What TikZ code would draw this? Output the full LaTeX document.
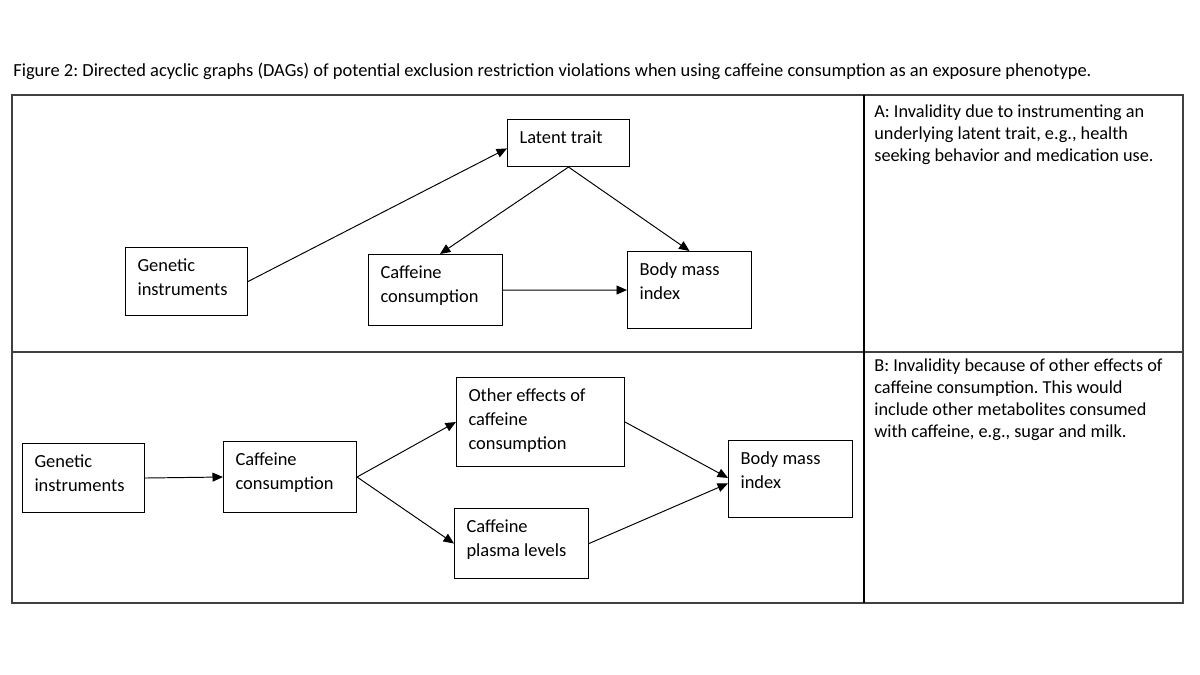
\documentclass[tikz,border=0pt]{standalone}
\usepackage{fontspec}
\setmainfont{Carlito}
\usetikzlibrary{arrows.meta}
\frenchspacing

\begin{document}
\begin{tikzpicture}[x = 0.02cm, y = -0.02cm,
  dagbox/.style 2 args = {draw = black, line width = 0.6pt, anchor = north west, align = flush left,
    inner xsep = 0.24cm, inner ysep = 0.22cm, text height = 0.26cm,
    text width = #1, text depth = #2, font = \fontsize{10.5}{13.6}\selectfont},
  desc/.style = {anchor = north west, inner sep = 0, align = left, font = \fontsize{10.4}{12.6}\selectfont},
  edge/.style = {draw = black, line width = 0.55pt, -{Triangle[length = 0.21cm, width = 0.18cm]}},
  rule/.style = {draw = black!75, line width = 0.9pt}]
\useasboundingbox (0, 0) rectangle (1200, 675);
\node[anchor = base west, inner sep = 0, font = \fontsize{10.5}{13}\selectfont] (caption) at (13, 77)
  {Figure 2: Directed acyclic graphs (DAGs) of potential exclusion restriction violations when using caffeine consumption as an exposure phenotype.};
\draw[rule] (12, 95) rectangle (1183, 603);
\draw[rule] (12, 352) -- (1183, 352);
\draw[black, line width = 0.7pt] (864, 95) -- (864, 603);
\node[desc] (notea) at (874, 104) {A: Invalidity due to instrumenting an\\underlying latent trait, e.g., health\\seeking behavior and medication use.};
\node[desc] (noteb) at (874, 358) {B: Invalidity because of other effects of\\caffeine consumption. This would\\include other metabolites consumed\\with caffeine, e.g., sugar and milk.};
\node[dagbox = {1.96cm}{0.24cm}] (latent) at (507, 119) {Latent trait};
\node[dagbox = {1.96cm}{0.66cm}] (genA) at (125, 247) {Genetic\\instruments};
\node[dagbox = {2.20cm}{0.72cm}] (cafA) at (368, 254) {Caffeine\\consumption};
\node[dagbox = {2.00cm}{0.84cm}] (bmiA) at (627, 251) {Body mass\\index};
\node[dagbox = {1.96cm}{0.68cm}] (genB) at (22, 443) {Genetic\\instruments};
\node[dagbox = {2.18cm}{0.72cm}] (cafB) at (223, 441) {Caffeine\\consumption};
\node[dagbox = {2.88cm}{1.08cm}] (other) at (456, 377) {Other effects of\\caffeine\\consumption};
\node[dagbox = {2.20cm}{0.70cm}] (plasma) at (454, 508) {Caffeine\\plasma levels};
\node[dagbox = {2.00cm}{0.84cm}] (bmiB) at (728, 440) {Body mass\\index};
\draw[edge] (genA.east) -- (latent.185);
\draw[edge] (latent.south) -- (cafA.83);
\draw[edge] (latent.south) -- (bmiA.north);
\draw[edge] (cafA.east) -- (bmiA.west);
\draw[edge] (genB.east) -- (cafB.west);
\draw[edge] (cafB.east) -- (other.west);
\draw[edge] (cafB.east) -- (plasma.west);
\draw[edge] (other.east) -- (bmiB.179);
\draw[edge] (plasma.east) -- (bmiB.184);
\end{tikzpicture}
\end{document}
